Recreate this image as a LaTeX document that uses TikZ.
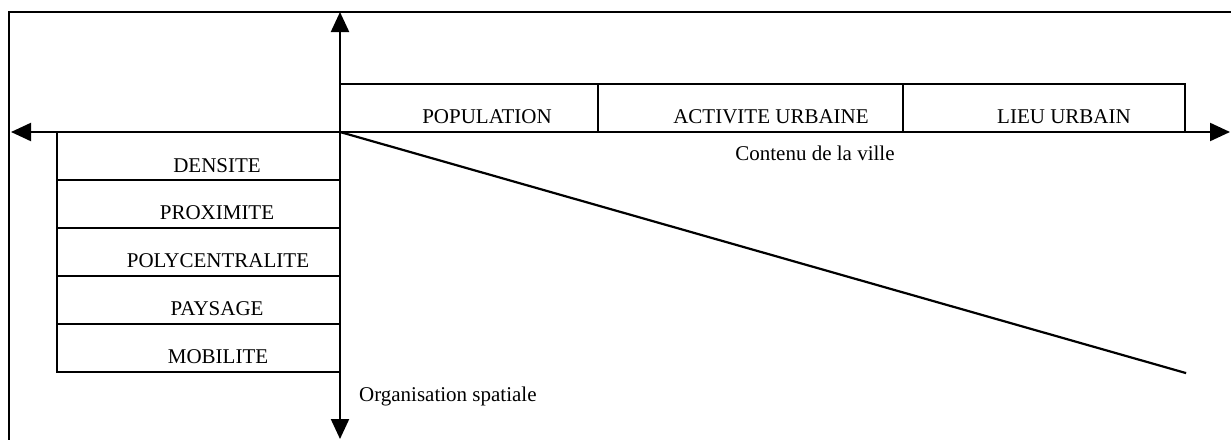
\documentclass[tikz,border=0pt]{standalone}
\usepackage{fontspec}
\setmainfont{Liberation Serif}
\usetikzlibrary{arrows.meta}
\begin{document}
\begin{tikzpicture}[x=1pt,y=-1pt,
  line width=2.2pt,
  cell/.style={draw, line width=2.2pt, rectangle, inner sep=0pt},
  lbl/.style={anchor=base, inner sep=0pt, font=\fontsize{21}{25}\selectfont},
  axis2/.style={line width=2.2pt, {Triangle[length=20pt,width=18pt]}-{Triangle[length=20pt,width=18pt]}}]
\useasboundingbox (0,0) rectangle (1231,439);
% frame
\draw[line width=2.2pt] (9,440) -- (9,12) -- (1232,12);
% origin
\coordinate (O) at (340,132);
\coordinate (top) at (340,12);
\coordinate (bot) at (340,439);
\coordinate (lft) at (11,132);
\coordinate (rgt) at (1230,132);
% top boxes
\node[cell, minimum width=258pt, minimum height=48pt] (pop) at (469,108) {};
\node[cell, minimum width=305pt, minimum height=48pt] (act) at (750.5,108) {};
\node[cell, minimum width=282pt, minimum height=48pt] (lieu) at (1044,108) {};
\node[lbl] (tpop) at (487,123) {POPULATION};
\node[lbl] (tact) at (771,123) {ACTIVITE URBAINE};
\node[lbl] (tlieu) at (1064,123) {LIEU URBAIN};
% left boxes
\node[cell, minimum width=283pt, minimum height=48pt] (dens) at (198.5,156) {};
\node[cell, minimum width=283pt, minimum height=48pt] (prox) at (198.5,204) {};
\node[cell, minimum width=283pt, minimum height=48pt] (poly) at (198.5,252) {};
\node[cell, minimum width=283pt, minimum height=48pt] (pays) at (198.5,300) {};
\node[cell, minimum width=283pt, minimum height=48pt] (mobi) at (198.5,348) {};
\node[lbl] (tdens) at (217,172) {DENSITE};
\node[lbl] (tprox) at (217,219) {PROXIMITE};
\node[lbl] (tpoly) at (218,267) {POLYCENTRALITE};
\node[lbl] (tpays) at (217,315) {PAYSAGE};
\node[lbl] (tmobi) at (218,363) {MOBILITE};
% axes
\draw[axis2] (lft) -- (rgt);
\draw[axis2] (bot) -- (top);
% diagonal
\draw (O) -- (lieu.east |- mobi.south);
% axis labels
\node[lbl] (cont) at (815,160) {Contenu de la ville};
\node[lbl, anchor=base west] (orga) at (358,401) {Organisation spatiale};
\end{tikzpicture}
\end{document}
